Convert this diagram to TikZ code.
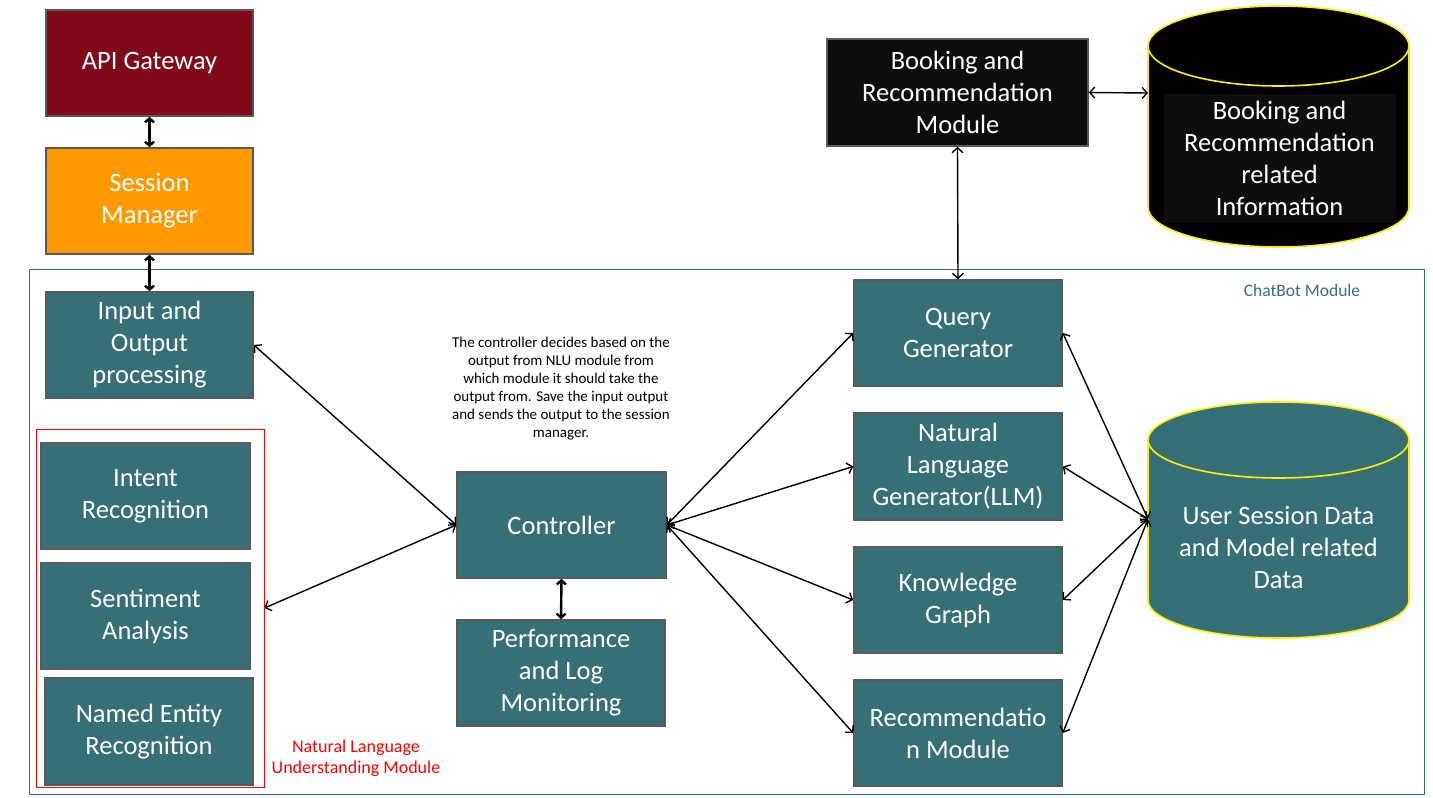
\documentclass[tikz,border=0pt]{standalone}
\usepackage{fontspec}
\setmainfont{Carlito}
\usetikzlibrary{arrows.meta}
\definecolor{teal1}{RGB}{55,111,119}
\definecolor{bord}{RGB}{89,89,89}
\definecolor{apired}{RGB}{128,10,26}
\definecolor{sesor}{RGB}{255,153,0}
\definecolor{nearblack}{RGB}{13,13,13}
\definecolor{cylyel}{RGB}{255,240,0}
\tikzset{
  box/.style={draw=bord, line width=1.6pt, fill=teal1, text=white, align=center,
    font=\fontsize{26.5}{32}\selectfont, inner sep=0pt, minimum width=207pt, minimum height=106pt},
  arr/.style={{Straight Barb[length=5pt,width=11pt]}-{Straight Barb[length=5pt,width=11pt]}, line width=1.4pt},
  tharr/.style={{Straight Barb[length=4pt,width=9pt]}-{Straight Barb[length=4pt,width=9pt]}, line width=2.4pt},
  cyl/.style={line width=1.6pt, draw=cylyel},
}
\begin{document}
\begin{tikzpicture}[x=1pt,y=-1pt]
\useasboundingbox (0,0) rectangle (1433,798);
% ChatBot frame
\draw[teal1, line width=1pt] (29,269) rectangle (1424,794);
\node[text=teal1, font=\fontsize{17.5}{20}\selectfont, anchor=center] (cbl) at (1302,290) {ChatBot Module};
% top-left
\node[box, fill=apired] (api) at (149.5,63) {API Gateway};
\node[box, fill=sesor] (ses) at (149.5,201) {Session\\Manager};
\node[box] (io) at (149.5,345) {Input and\\Output\\processing};
% NLU frame
\node[draw=red, line width=1pt, minimum width=228pt, minimum height=358pt, inner sep=0pt] (nlu) at (150,608) {};
\node[box, minimum width=209pt] (intent) at (145.5,496) {Intent\\Recognition};
\node[box, minimum width=209pt] (senti) at (145.5,616) {Sentiment\\Analysis};
\node[box, minimum width=208pt, minimum height=107pt] (ner) at (149,731.5) {Named Entity\\Recognition};
\node[text=red, align=center, font=\fontsize{18}{21}\selectfont] (nlul) at (356,758) {Natural Language\\Understanding Module};
% controller
\node[box, minimum width=209pt] (ctrl) at (561.5,525) {Controller};
\node[box, minimum width=208pt] (perf) at (561,673) {Performance\\and Log\\Monitoring};
\node[align=center, font=\fontsize{15}{18}\selectfont] (note) at (561,389) {The controller decides based on the\\output from NLU module from\\which module it should take the\\output from. Save the input output\\and sends the output to the session\\manager.};
% right column
\node[box, minimum width=208pt] (qg) at (958,333) {Query\\Generator};
\node[box, minimum width=208pt, minimum height=107pt] (nlg) at (958,466.5) {Natural\\Language\\Generator(LLM)};
\node[box, minimum width=208pt] (kg) at (958,600) {Knowledge\\Graph};
\node[box, minimum width=208pt] (rec) at (958,733) {Recommendatio\\n Module};
\node[box, fill=nearblack, minimum width=261pt, minimum height=107pt] (bm) at (957.5,92.5) {Booking and\\Recommendation\\Module};
% Booking cylinder
\filldraw[cyl, fill=black] (1278.5,207) ellipse [x radius=130.5, y radius=40];
\fill[black] (1148,46) rectangle (1409,207);
\draw[cyl] (1148,46) -- (1148,207) (1409,46) -- (1409,207);
\filldraw[cyl, fill=black] (1278.5,46) ellipse [x radius=130.5, y radius=40];
\node[fill=nearblack, text=white, align=center, font=\fontsize{26.5}{32}\selectfont, minimum width=232pt, minimum height=129pt, inner sep=0pt] (binfo) at (1279.5,158.5) {Booking and\\Recommendation\\related\\Information};
\coordinate (bcw) at (1148,93);
% User session cylinder
\filldraw[cyl, fill=teal1] (1278.5,600) ellipse [x radius=130.5, y radius=38];
\fill[teal1] (1148,440) rectangle (1409,600);
\draw[cyl] (1148,440) -- (1148,600) (1409,440) -- (1409,600);
\filldraw[cyl, fill=teal1] (1278.5,440) ellipse [x radius=130.5, y radius=38];
\node[text=white, align=center, font=\fontsize{26.5}{32}\selectfont] (usd) at (1278.5,547) {User Session Data\\and Model related\\Data};
\coordinate (usw) at (1148,519);
% connectors
\draw[tharr] (api.south) -- (ses.north);
\draw[tharr] (ses.south) -- (io.north);
\draw[tharr] (ctrl.south) -- (perf.north);
\draw[arr] (io.east) -- (ctrl.west);
\draw[arr] (nlu.east) -- (ctrl.west);
\draw[arr] (ctrl.east) -- (qg.west);
\draw[arr] (ctrl.east) -- (nlg.west);
\draw[arr] (ctrl.east) -- (kg.west);
\draw[arr] (ctrl.east) -- (rec.west);
\draw[arr] (bm.south) -- (qg.north);
\draw[arr] (bm.east) -- (bcw);
\draw[arr] (qg.east) -- (usw);
\draw[arr] (nlg.east) -- (usw);
\draw[arr] (kg.east) -- (usw);
\draw[arr] (rec.east) -- (usw);
\end{tikzpicture}
\end{document}
